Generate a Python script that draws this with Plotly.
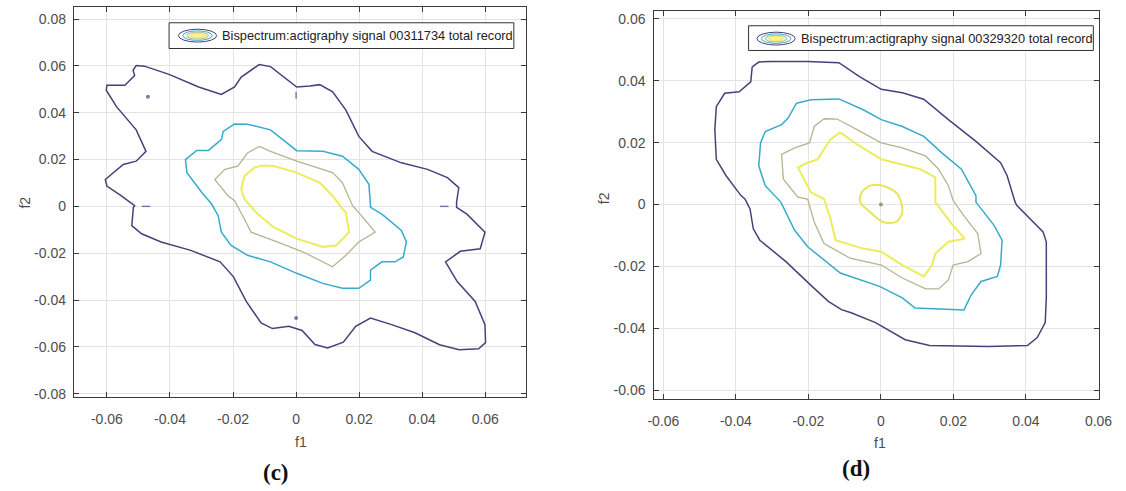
import plotly.graph_objects as go

W, H = 1126, 491

# ---------------- panel (c): record 00311734 ----------------
c_tick_vals_x = [-0.06, -0.04, -0.02, 0, 0.02, 0.04, 0.06]
c_tick_text_x = ["-0.06", "-0.04", "-0.02", "0", "0.02", "0.04", "0.06"]
c_tick_vals_y = [-0.08, -0.06, -0.04, -0.02, 0, 0.02, 0.04, 0.06, 0.08]
c_tick_text_y = ["-0.08", "-0.06", "-0.04", "-0.02", "0", "0.02", "0.04", "0.06", "0.08"]

c_lvl1_f1 = [-0.0507, -0.0481, -0.0403, -0.0309, -0.0237, -0.0195, -0.0174, -0.0117, -0.0081, -0.0040,
             0.0002, 0.0044, 0.0075, 0.0116, 0.0158, 0.0199, 0.0241, 0.0334, 0.0417, 0.0480,
             0.0516, 0.0509, 0.0509, 0.0542, 0.0599, 0.0584, 0.0521, 0.0474, 0.0511, 0.0568,
             0.0599, 0.0601, 0.0579, 0.0517, 0.0455, 0.0377, 0.0303, 0.0236, 0.0189, 0.0150,
             0.0100, 0.0060, 0.0019, -0.0023, -0.0075, -0.0111, -0.0158, -0.0199, -0.0241, -0.0334,
             -0.0428, -0.0490, -0.0521, -0.0516, -0.0512, -0.0554, -0.0600, -0.0605, -0.0548, -0.0507,
             -0.0476, -0.0507, -0.0569, -0.0602, -0.0600, -0.0543, -0.0512, -0.0517, -0.0507]
c_lvl1_f2 = [0.0602, 0.0599, 0.0564, 0.0510, 0.0478, 0.0510, 0.0552, 0.0606, 0.0597, 0.0552,
             0.0510, 0.0514, 0.0520, 0.0489, 0.0411, 0.0299, 0.0235, 0.0186, 0.0158, 0.0123,
             0.0080, 0.0017, -0.0004, -0.0033, -0.0110, -0.0181, -0.0192, -0.0237, -0.0321, -0.0406,
             -0.0505, -0.0582, -0.0608, -0.0612, -0.0591, -0.0540, -0.0505, -0.0477, -0.0512, -0.0580,
             -0.0605, -0.0590, -0.0530, -0.0512, -0.0522, -0.0498, -0.0406, -0.0300, -0.0237, -0.0188,
             -0.0152, -0.0117, -0.0082, -0.0004, 0.0003, 0.0045, 0.0087, 0.0115, 0.0179, 0.0193,
             0.0235, 0.0327, 0.0425, 0.0496, 0.0517, 0.0517, 0.0559, 0.0581, 0.0602]

c_lvl2_f1 = [-0.0195, -0.0154, -0.0081, 0.0002, 0.0085, 0.0147, 0.0199, 0.0231, 0.0236, 0.0236,
             0.0272, 0.0334, 0.0350, 0.0340, 0.0314, 0.0272, 0.0236, 0.0236, 0.0199, 0.0147,
             0.0085, 0.0002, -0.0081, -0.0154, -0.0206, -0.0237, -0.0247, -0.0268, -0.0299, -0.0346,
             -0.0351, -0.0315, -0.0278, -0.0237, -0.0231, -0.0195]
c_lvl2_f2 = [0.0352, 0.0351, 0.0327, 0.0238, 0.0235, 0.0214, 0.0158, 0.0094, 0.0003, -0.0004,
             -0.0033, -0.0103, -0.0152, -0.0216, -0.0237, -0.0237, -0.0272, -0.0315, -0.0350, -0.0350,
             -0.0329, -0.0286, -0.0237, -0.0209, -0.0167, -0.0110, -0.0040, 0.0010, 0.0059, 0.0144,
             0.0200, 0.0239, 0.0239, 0.0285, 0.0320, 0.0352]

c_lvl3_f1 = [-0.0117, -0.0081, 0.0002, 0.0116, 0.0147, 0.0179, 0.0189, 0.0251, 0.0199, 0.0158,
             0.0116, 0.0023, -0.0060, -0.0143, -0.0164, -0.0195, -0.0216, -0.0258, -0.0226, -0.0185,
             -0.0154, -0.0117]
c_lvl3_f2 = [0.0256, 0.0235, 0.0193, 0.0144, 0.0101, 0.0003, -0.0011, -0.0110, -0.0152, -0.0209,
             -0.0258, -0.0195, -0.0152, -0.0110, -0.0054, 0.0024, 0.0045, 0.0115, 0.0158, 0.0172,
             0.0228, 0.0256]

c_lvl4_f1 = [-0.0107, -0.0071, 0.0002, 0.0075, 0.0116, 0.0147, 0.0158, 0.0168, 0.0127, 0.0085,
             0.0002, -0.0071, -0.0122, -0.0164, -0.0174, -0.0164, -0.0133, -0.0107]
c_lvl4_f2 = [0.0175, 0.0172, 0.0144, 0.0101, 0.0045, -0.0011, -0.0025, -0.0110, -0.0167, -0.0173,
             -0.0138, -0.0089, -0.0033, 0.0031, 0.0073, 0.0129, 0.0165, 0.0175]

# isolated tiny outer-level islands
c_spot_f1 = [-0.0470, 0.0000, -0.0476, 0.0470, 0.0000]
c_spot_f2 = [0.0468, 0.0475, 0.0000, 0.0000, -0.0477]

# ---------------- panel (d): record 00329320 ----------------
d_tick_vals_x = [-0.06, -0.04, -0.02, 0, 0.02, 0.04, 0.06]
d_tick_text_x = ["-0.06", "-0.04", "-0.02", "0", "0.02", "0.04", "0.06"]
d_tick_vals_y = [-0.06, -0.04, -0.02, 0, 0.02, 0.04, 0.06]
d_tick_text_y = ["-0.06", "-0.04", "-0.02", "0", "0.02", "0.04", "0.06"]

d_lvl1_f1 = [-0.0301, -0.0202, -0.0116, -0.0058, 0.0001, 0.0059, 0.0118, 0.0186, 0.0262, 0.0330,
             0.0348, 0.0370, 0.0375, 0.0447, 0.0456, 0.0456, 0.0453, 0.0431, 0.0404, 0.0296,
             0.0134, 0.0067, -0.0015, -0.0082, -0.0109, -0.0145, -0.0190, -0.0262, -0.0334, -0.0352,
             -0.0361, -0.0375, -0.0386, -0.0427, -0.0454, -0.0458, -0.0454, -0.0431, -0.0391, -0.0359,
             -0.0355, -0.0337, -0.0301]
d_lvl1_f2 = [0.0462, 0.0462, 0.0458, 0.0412, 0.0372, 0.0361, 0.0340, 0.0274, 0.0204, 0.0135,
             0.0093, 0.0008, -0.0003, -0.0088, -0.0120, -0.0301, -0.0381, -0.0429, -0.0455, -0.0458,
             -0.0455, -0.0436, -0.0381, -0.0349, -0.0339, -0.0312, -0.0264, -0.0184, -0.0115, -0.0078,
             -0.0014, 0.0018, 0.0029, 0.0093, 0.0146, 0.0242, 0.0316, 0.0359, 0.0364, 0.0396,
             0.0444, 0.0460, 0.0462]

d_lvl2_f1 = [-0.0233, -0.0193, -0.0116, -0.0049, 0.0001, 0.0059, 0.0118, 0.0168, 0.0222, 0.0262,
             0.0262, 0.0312, 0.0334, 0.0330, 0.0321, 0.0276, 0.0249, 0.0229, 0.0094, 0.0059,
             -0.0004, -0.0112, -0.0202, -0.0238, -0.0276, -0.0319, -0.0337, -0.0332, -0.0319,
             -0.0274, -0.0256, -0.0233]
d_lvl2_f2 = [0.0327, 0.0338, 0.0341, 0.0306, 0.0274, 0.0252, 0.0220, 0.0167, 0.0114, 0.0029,
             0.0008, -0.0067, -0.0115, -0.0195, -0.0232, -0.0248, -0.0291, -0.0340, -0.0334, -0.0301,
             -0.0264, -0.0221, -0.0136, -0.0083, 0.0008, 0.0061, 0.0125, 0.0199, 0.0236,
             0.0258, 0.0279, 0.0327]

d_lvl3_f1 = [-0.0157, -0.0121, -0.0066, 0.0001, 0.0059, 0.0123, 0.0159, 0.0186, 0.0199, 0.0231,
             0.0267, 0.0276, 0.0240, 0.0199, 0.0186, 0.0159, 0.0123, 0.0059, 0.0001, -0.0085,
             -0.0157, -0.0184, -0.0202, -0.0229, -0.0269, -0.0274, -0.0238, -0.0197, -0.0184, -0.0157]
d_lvl3_f2 = [0.0277, 0.0276, 0.0242, 0.0199, 0.0183, 0.0157, 0.0114, 0.0061, 0.0013, -0.0040,
             -0.0094, -0.0158, -0.0184, -0.0195, -0.0243, -0.0272, -0.0272, -0.0237, -0.0195, -0.0173,
             -0.0126, -0.0056, 0.0018, 0.0024, 0.0082, 0.0162, 0.0183, 0.0199, 0.0252, 0.0277]

d_lvl4_f1 = [-0.0112, -0.0066, 0.0001, 0.0059, 0.0109, 0.0150, 0.0150, 0.0195, 0.0231, 0.0186,
             0.0150, 0.0141, 0.0118, 0.0059, 0.0001, -0.0049, -0.0125, -0.0139, -0.0157, -0.0193,
             -0.0229, -0.0202, -0.0175, -0.0139, -0.0112]
d_lvl4_f2 = [0.0233, 0.0194, 0.0146, 0.0130, 0.0114, 0.0088, 0.0008, -0.0062, -0.0110, -0.0120,
             -0.0158, -0.0195, -0.0232, -0.0195, -0.0152, -0.0142, -0.0115, -0.0046, 0.0018, 0.0040,
             0.0120, 0.0135, 0.0146, 0.0210, 0.0233]

d_lvl5_f1 = [-0.0030, 0.0005, 0.0046, 0.0059, 0.0042, 0.0005, -0.0030, -0.0058, -0.0053, -0.0030]
d_lvl5_f2 = [0.0061, 0.0061, 0.0034, -0.0024, -0.0056, -0.0056, -0.0024, 0.0009, 0.0040, 0.0061]

d_peak_f1 = [0.0]
d_peak_f2 = [0.0]

# contour level colours (parula-like, low -> high)
LEVEL_COLORS = ["#43437a", "#36abcd", "#b6b491", "#ecec5c", "#e6e65a"]
TICK_FONT = dict(family="Liberation Sans, Arial, sans-serif", size=14, color="#4d4d4d")

fig = go.Figure()


def add_line(fx, fy, color, ax, width=1.5, shape="linear"):
    fig.add_trace(go.Scatter(x=fx, y=fy, mode="lines",
                             line=dict(color=color, width=width, shape=shape, smoothing=0.8),
                             xaxis=ax[0], yaxis=ax[1], hoverinfo="skip", showlegend=False))


# panel (c)
add_line(c_lvl1_f1, c_lvl1_f2, LEVEL_COLORS[0], ("x", "y"))
add_line(c_lvl2_f1, c_lvl2_f2, LEVEL_COLORS[1], ("x", "y"))
add_line(c_lvl3_f1, c_lvl3_f2, LEVEL_COLORS[2], ("x", "y"), 1.3)
add_line(c_lvl4_f1, c_lvl4_f2, LEVEL_COLORS[3], ("x", "y"), 2.0)
fig.add_trace(go.Scatter(x=c_spot_f1, y=c_spot_f2, mode="markers", xaxis="x", yaxis="y",
                         marker=dict(symbol=["circle", "line-ns", "line-ew", "line-ew", "circle"],
                                     size=[2.5, 5, 6, 6, 2.5], color=LEVEL_COLORS[0],
                                     line=dict(color=LEVEL_COLORS[0], width=1.4)),
                         hoverinfo="skip", showlegend=False))

# panel (d)
add_line(d_lvl1_f1, d_lvl1_f2, LEVEL_COLORS[0], ("x2", "y2"))
add_line(d_lvl2_f1, d_lvl2_f2, LEVEL_COLORS[1], ("x2", "y2"))
add_line(d_lvl3_f1, d_lvl3_f2, LEVEL_COLORS[2], ("x2", "y2"), 1.3)
add_line(d_lvl4_f1, d_lvl4_f2, LEVEL_COLORS[3], ("x2", "y2"), 2.0)
add_line(d_lvl5_f1, d_lvl5_f2, LEVEL_COLORS[4], ("x2", "y2"), 2.0, "spline")
fig.add_trace(go.Scatter(x=d_peak_f1, y=d_peak_f2, mode="markers", xaxis="x2", yaxis="y2",
                         marker=dict(size=4, color="#9a9a84"), hoverinfo="skip", showlegend=False))


def px_x(p):
    return p / W


def px_y(p):
    return 1 - p / H


axis_common = dict(showline=True, linecolor="#3a3a3a", linewidth=1, mirror="allticks",
                   ticks="inside", ticklen=5, tickcolor="#3a3a3a", showgrid=True,
                   gridcolor="#e3e3e3", gridwidth=1, zeroline=False, tickfont=TICK_FONT,
                   fixedrange=True)

fig.update_layout(
    width=W, height=H, margin=dict(l=0, r=0, t=0, b=0),
    paper_bgcolor="white", plot_bgcolor="white", showlegend=False,
    xaxis=dict(domain=[px_x(68), px_x(528)], range=[-0.0705, 0.0728], ticklabelstandoff=9,
               tickvals=c_tick_vals_x, ticktext=c_tick_text_x, anchor="y", **axis_common),
    yaxis=dict(domain=[px_y(401), px_y(7)], range=[-0.0814, 0.0852], ticklabelstandoff=4,
               tickvals=c_tick_vals_y, ticktext=c_tick_text_y, anchor="x", **axis_common),
    xaxis2=dict(domain=[px_x(659), px_x(1112)], range=[-0.0625, 0.0602], ticklabelstandoff=9,
                tickvals=d_tick_vals_x, ticktext=d_tick_text_x, anchor="y2", **axis_common),
    yaxis2=dict(domain=[px_y(403), px_y(11)], range=[-0.0627, 0.0625], ticklabelstandoff=5,
                tickvals=d_tick_vals_y, ticktext=d_tick_text_y, anchor="x2", **axis_common),
)

# axis labels and panel letters
label_font = dict(family="Liberation Sans, Arial, sans-serif", size=14, color="#4d4d4d")
letter_font = dict(family="Liberation Serif, DejaVu Serif, serif", size=23, color="#111111")
annotations = [
    dict(text="f1", x=px_x(299), y=px_y(447), font=label_font),
    dict(text="f2", x=px_x(18), y=px_y(205), font=label_font, textangle=-90),
    dict(text="f1", x=px_x(889), y=px_y(448), font=label_font),
    dict(text="f2", x=px_x(608), y=px_y(200), font=label_font, textangle=-90),
    dict(text="<b>(c)</b>", x=px_x(274), y=px_y(477), font=letter_font),
    dict(text="<b>(d)</b>", x=px_x(864), y=px_y(473), font=letter_font),
]

# legend boxes with a nested-ellipse key
legend_font = dict(family="Liberation Sans, Arial, sans-serif", size=12.8, color="#222222")
legends = [
    dict(box=(165, 23, 516, 49), ell=(194, 36), text="Bispectrum:actigraphy signal 00311734 total record", tx=217),
    dict(box=(755, 26, 1106, 51), ell=(783, 39), text="Bispectrum:actigraphy signal 00329320 total record", tx=806),
]
shapes = []
for lg in legends:
    x0, y0, x1, y1 = lg["box"]
    shapes.append(dict(type="rect", xref="paper", yref="paper", x0=px_x(x0), x1=px_x(x1),
                       y0=px_y(y1), y1=px_y(y0), line=dict(color="#333333", width=1),
                       fillcolor="white", layer="above"))
    cx, cy = lg["ell"]
    for (hw, hh, col, fill) in [(19.5, 6.5, LEVEL_COLORS[0], "rgba(0,0,0,0)"),
                                (15, 4.8, LEVEL_COLORS[1], "rgba(0,0,0,0)"),
                                (11, 3.5, LEVEL_COLORS[2], "#f2f2b4"),
                                (7, 2.2, LEVEL_COLORS[3], "#f4f4a0")]:
        shapes.append(dict(type="circle", xref="paper", yref="paper",
                           x0=px_x(cx - hw), x1=px_x(cx + hw), y0=px_y(cy + hh), y1=px_y(cy - hh),
                           line=dict(color=col, width=1), fillcolor=fill, layer="above"))
    annotations.append(dict(text=lg["text"], x=px_x(lg["tx"]), y=px_y((y0 + y1) / 2),
                            xanchor="left", font=legend_font))

for a in annotations:
    a.setdefault("xref", "paper")
    a.setdefault("yref", "paper")
    a.setdefault("showarrow", False)
    a.setdefault("yanchor", "middle")
    a.setdefault("xanchor", "center")

fig.update_layout(shapes=shapes, annotations=annotations)

fig.write_html("out.html")
